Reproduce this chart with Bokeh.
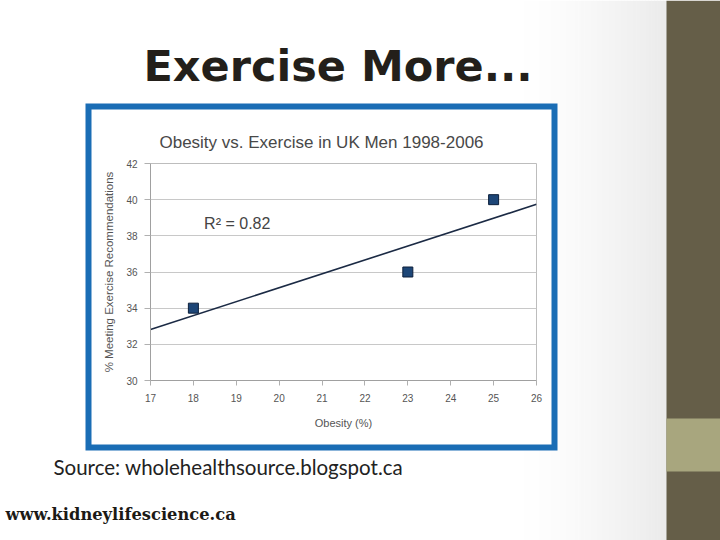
import numpy as np
from bokeh.plotting import figure
from bokeh.models import Range1d, Label, FixedTicker, ColumnDataSource
from bokeh.embed import file_html
from bokeh.resources import INLINE

# ---- data ----
obesity = [18, 23, 25]
exercise = [34, 36, 40]
x_ticks = [17, 18, 19, 20, 21, 22, 23, 24, 25, 26]
y_ticks = [30, 32, 34, 36, 38, 40, 42]
slide_title = "Exercise More..."
chart_title = "Obesity vs. Exercise in UK Men 1998-2006"
x_label = "Obesity (%)"
y_label = "% Meeting Exercise Recommendations"
r2_text = "R\u00b2 = 0.82"
source_text = "Source: wholehealthsource.blogspot.ca"
site_text = "www.kidneylifescience.ca"

# trend line from least squares fit
slope, intercept = np.polyfit(obesity, exercise, 1)
trend_x = [x_ticks[0], x_ticks[-1]]
trend_y = [slope * v + intercept for v in trend_x]

# ---------------- slide background (page pixel space) ----------------
bg = figure(width=720, height=540, output_backend="svg", toolbar_location=None,
            x_range=Range1d(0, 720), y_range=Range1d(540, 0),
            x_axis_type=None, y_axis_type=None, min_border=0)
bg.grid.visible = False
bg.outline_line_color = None
bg.border_fill_color = "#ffffff"
bg.background_fill_color = "#ffffff"
bg.styles = {"position": "absolute", "left": "0px", "top": "0px"}

# soft grey shading toward the right edge of the slide
n = 48
edges = np.linspace(520, 666, n + 1)
shade = (255 - 20 * (np.linspace(0, 1, n) ** 1.4)).astype(int)
bg.quad(left=edges[:-1], right=edges[1:] + 0.5, top=[0] * n, bottom=[540] * n,
        fill_color=["#%02x%02x%02x" % (s, s, s) for s in shade], line_color=None)
# right decorative bar
bg.quad(left=[666], right=[720], top=[0], bottom=[540], fill_color="#655e48", line_color=None)
bg.quad(left=[666], right=[720], top=[418], bottom=[471], fill_color="#a8a67e", line_color=None)
# blue frame around chart image
bg.quad(left=[85], right=[557], top=[103], bottom=[450], fill_color="#1a6db5", line_color=None)
bg.quad(left=[91], right=[551], top=[109], bottom=[444], fill_color="#ffffff", line_color=None)

bg.add_layout(Label(x=143, y=65, text=slide_title, text_font="DejaVu Sans", text_font_style="bold",
                    text_font_size="43px", text_color="#231f1a", text_align="left",
                    text_baseline="middle"))
bg.add_layout(Label(x=321, y=142, text=chart_title, text_font="Liberation Sans",
                    text_font_size="17px", text_color="#484848", text_align="center",
                    text_baseline="middle"))
bg.add_layout(Label(x=53, y=466, text=source_text, text_font="Lato", text_font_size="20.5px",
                    text_color="#222222", text_align="left", text_baseline="middle"))
bg.add_layout(Label(x=5, y=514, text=site_text, text_font="DejaVu Serif", text_font_style="bold",
                    text_font_size="16.3px", text_color="#1c1a16", text_align="left",
                    text_baseline="middle"))

# ---------------- chart ----------------
CL, CT, CW, CH = 91, 109, 461, 335          # chart figure box on page
FL, FR, FT, FB = 150, 536, 163, 380         # plot frame on page
p = figure(width=CW, height=CH, output_backend="svg", toolbar_location=None,
           x_range=Range1d(x_ticks[0], x_ticks[-1]), y_range=Range1d(y_ticks[0], y_ticks[-1]),
           min_border_left=FL - CL, min_border_right=CL + CW - FR,
           min_border_top=FT - CT, min_border_bottom=CT + CH - FB)
p.styles = {"position": "absolute", "left": f"{CL}px", "top": f"{CT}px"}
p.border_fill_color = None
p.background_fill_color = "#ffffff"
p.outline_line_color = "#bdbdbd"

for ax in (p.xaxis[0], p.yaxis[0]):
    ax.axis_line_color = "#a0a0a0"
    ax.major_tick_line_color = "#b0b0b0"
    ax.major_tick_in = 0
    ax.minor_tick_line_color = None
    ax.major_label_text_color = "#555555"
    ax.major_label_text_font = "Liberation Sans"
    ax.major_label_text_font_size = "10px"
    ax.axis_label_text_font = "Liberation Sans"
    ax.axis_label_text_font_style = "normal"
    ax.axis_label_text_color = "#555555"

p.xaxis.ticker = FixedTicker(ticks=x_ticks)
p.yaxis.ticker = FixedTicker(ticks=y_ticks)
p.xaxis.axis_label = x_label
p.yaxis.axis_label = y_label
p.xaxis.major_tick_out = 5
p.yaxis.major_tick_out = 6
p.xaxis.major_label_standoff = 8
p.yaxis.major_label_standoff = 7
p.xaxis.axis_label_standoff = 12
p.yaxis.axis_label_standoff = 8
p.xaxis.axis_label_text_font_size = "11px"
p.yaxis.axis_label_text_font_size = "11.5px"

p.xgrid.grid_line_color = None
p.ygrid.grid_line_color = "#c8c8c8"

p.line(trend_x, trend_y, line_color="#1b2a44", line_width=1.6)
src = ColumnDataSource(dict(x=obesity, y=exercise))
p.scatter("x", "y", source=src, marker="square", size=10,
          fill_color="#1d4677", line_color="#0c1f3b", line_width=1)
p.add_layout(Label(x=18.25, y=38.7, text=r2_text, text_font="Liberation Sans", text_font_size="16px",
                   text_color="#444444", text_baseline="middle"))

open("out.html", "w").write(file_html([bg, p], INLINE))
